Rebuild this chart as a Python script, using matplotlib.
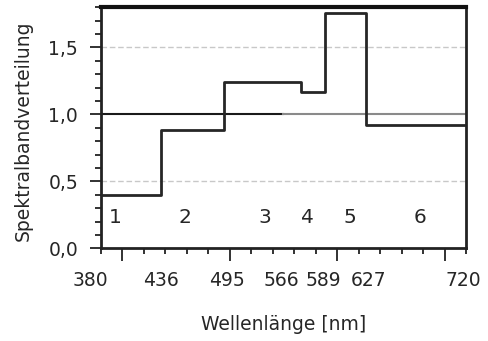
import matplotlib
matplotlib.use("Agg")
import matplotlib.pyplot as plt
from matplotlib.ticker import MultipleLocator, FixedLocator
import matplotlib.transforms as mtransforms

plt.rcParams['font.family'] = ['DejaVu Sans']

# Data
band_edges = [380, 436, 495, 566, 589, 627, 720]
band_values = [0.40, 0.88, 1.24, 1.17, 1.76, 0.92]
band_names = ["1", "2", "3", "4", "5", "6"]
band_label_x = [393, 458, 533, 572, 612, 677]
band_label_y = 0.23
ref_black_x = [380, 550]
ref_gray_x = [550, 720]
ref_level = 1.0
edge_labels = ["380", "436", "495", "566", "589", "627", "720"]
edge_label_shift = [-9.5, 0, 2, -17.7, -1.5, 2, -2.3]
ytick_vals = [0.0, 0.5, 1.0, 1.5]
ytick_labels = ["0,0", "0,5", "1,0", "1,5"]

TXT = '#262626'
fig = plt.figure(figsize=(4.88, 3.41), dpi=100)
ax = fig.add_axes([101/488, 1-248.3/341, 365/488, 241/341])

# grid lines
for g in [0.5, 1.5]:
    ax.axhline(g, color='#c8c8c8', lw=1.0, ls=(0, (4, 2)), zorder=1)

# reference line
ax.plot(ref_black_x, [ref_level]*2, color='#1a1a1a', lw=1.5, zorder=2)
ax.plot(ref_gray_x, [ref_level]*2, color='#8a8a8a', lw=1.5, zorder=2)

# step line
xs = band_edges
ys = band_values + [band_values[-1]]
ax.step(xs, ys, where='post', color='#262626', lw=2.0, zorder=3)

for name, x in zip(band_names, band_label_x):
    ax.text(x, band_label_y, name, ha='center', va='center', fontsize=14.5, color=TXT)

ax.set_xlim(380, 720)
ax.set_ylim(0, 1.8)

ax.xaxis.set_major_locator(FixedLocator([400, 500, 600, 700]))
ax.xaxis.set_minor_locator(MultipleLocator(20))
ax.set_xticklabels([])
ax.tick_params(axis='x', which='major', direction='out', length=9, width=1.3, color='#222222')
ax.tick_params(axis='x', which='minor', direction='out', length=4, width=1.3, color='#222222')

ax.set_yticks(ytick_vals)
ax.set_yticklabels(ytick_labels, fontsize=13.5, color=TXT)
ax.yaxis.set_minor_locator(MultipleLocator(0.1))
ax.tick_params(axis='y', which='major', direction='out', length=8, width=1.3, color='#222222', pad=8.5)
ax.tick_params(axis='y', which='minor', direction='out', length=4.3, width=1.3, color='#222222')

trans = mtransforms.blended_transform_factory(ax.transData, ax.transAxes)
for lab, x, sh in zip(edge_labels, band_edges, edge_label_shift):
    ax.text(x + sh, -32/241, lab, transform=trans, ha='center', va='center', fontsize=13.5, color=TXT)

fig.text(283.5/488, 1-324/341, "Wellenlänge [nm]", ha='center', va='center', fontsize=13.5, color=TXT)
fig.text(23/488, 1-130.8/341, "Spektralbandverteilung", ha='center', va='center', rotation=90, fontsize=13.5, color=TXT)

for s in ['left', 'bottom', 'right']:
    ax.spines[s].set_linewidth(2.0)
    ax.spines[s].set_color('#222222')
ax.spines['top'].set_linewidth(3.0)
ax.spines['top'].set_color('#111111')

fig.savefig("out.png", dpi=100)
